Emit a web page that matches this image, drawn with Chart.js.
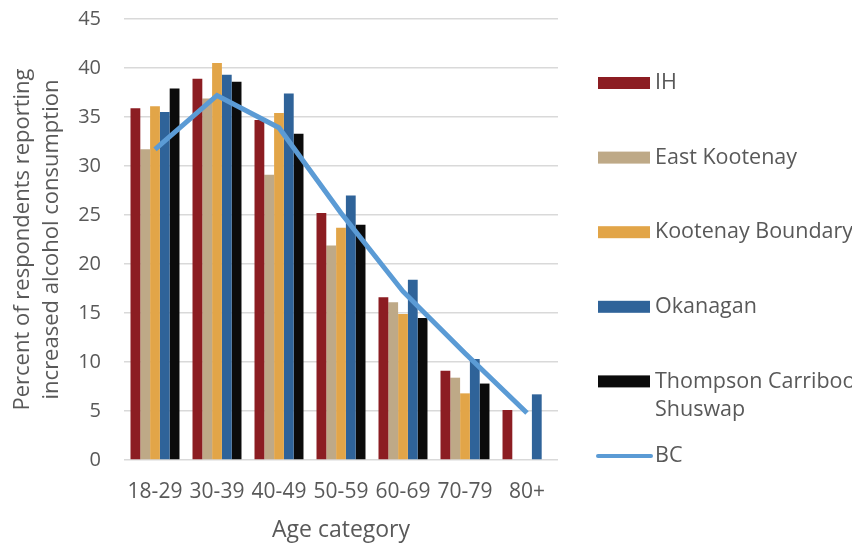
<!DOCTYPE html>
<html>
<head>
<meta charset="utf-8">
<script src="https://cdn.jsdelivr.net/npm/chart.js@4.4.0/dist/chart.umd.min.js"></script>
<style>
  html, body { margin: 0; padding: 0; background: #fff; }
  #wrap { width: 852px; height: 544px; }
</style>
</head>
<body>
<div id="wrap"><canvas id="chart" width="852" height="544"></canvas></div>
<script>
// age groups on the x axis
const ageCategories = ['18-29', '30-39', '40-49', '50-59', '60-69', '70-79', '80+'];

// percent reporting increased alcohol consumption, by region
const ihValues = [35.9, 38.9, 34.7, 25.2, 16.6, 9.1, 5.1];
const eastKootenayValues = [31.7, 36.9, 29.1, 21.9, 16.1, 8.4, null];
const kootenayBoundaryValues = [36.1, 40.5, 35.4, 23.7, 14.9, 6.8, null];
const okanaganValues = [35.5, 39.3, 37.4, 27.0, 18.4, 10.3, 6.7];
const thompsonValues = [37.9, 38.6, 33.3, 24.0, 14.5, 7.8, null];
const bcValues = [31.7, 37.2, 33.9, 25.2, 17.2, 10.9, 4.8];

const yTicks = [0, 5, 10, 15, 20, 25, 30, 35, 40, 45];

const FONT = "'Open Sans', sans-serif";
const TEXT_COLOR = '#595959';

// legend drawn down the right side, one row per dataset
const sideLegend = {
  id: 'sideLegend',
  afterDraw(chart) {
    const ctx = chart.ctx;
    const x = 598;
    let y = 83;
    ctx.save();
    ctx.font = '21.5px ' + FONT;
    ctx.textBaseline = 'middle';
    chart.data.datasets.forEach((ds) => {
      if (ds.type === 'line') {
        ctx.strokeStyle = ds.borderColor;
        ctx.lineWidth = 4;
        ctx.lineCap = 'round';
        ctx.beginPath();
        ctx.moveTo(x, y);
        ctx.lineTo(x + 53, y);
        ctx.stroke();
      } else {
        ctx.fillStyle = ds.backgroundColor;
        ctx.fillRect(x, y - 6, 52, 12);
      }
      ctx.fillStyle = TEXT_COLOR;
      ds.label.split('\n').forEach((line, i) => {
        ctx.fillText(line, x + 57, y + i * 28);
      });
      y += 74.6;
    });
    ctx.restore();
  }
};

function barSet(label, data, color) {
  return {
    label: label,
    data: data,
    backgroundColor: color,
    categoryPercentage: 0.79,
    barPercentage: 1.0
  };
}

const ctx = document.getElementById('chart').getContext('2d');
new Chart(ctx, {
  type: 'bar',
  data: {
    labels: ageCategories,
    datasets: [
      barSet('IH', ihValues, '#8c1d22'),
      barSet('East Kootenay', eastKootenayValues, '#bea987'),
      barSet('Kootenay Boundary', kootenayBoundaryValues, '#e2a548'),
      barSet('Okanagan', okanaganValues, '#2f6399'),
      barSet('Thompson Carriboo\nShuswap', thompsonValues, '#0b0b0b'),
      {
        type: 'line',
        label: 'BC',
        data: bcValues,
        borderColor: '#5b9bd5',
        borderWidth: 5,
        pointRadius: 0,
        tension: 0,
        order: -1
      }
    ]
  },
  options: {
    responsive: false,
    animation: false,
    devicePixelRatio: 1,
    layout: { padding: { left: 0, right: 294, top: 19, bottom: 0 } },
    plugins: {
      legend: { display: false },
      tooltip: { enabled: false }
    },
    scales: {
      x: {
        grid: { display: false, drawTicks: false },
        border: { display: false },
        ticks: { color: TEXT_COLOR, font: { family: FONT, size: 21, lineHeight: 1.2 }, padding: 19, maxRotation: 0 },
        title: {
          display: true,
          text: 'Age category',
          color: TEXT_COLOR,
          font: { family: FONT, size: 23, lineHeight: 1.2 },
          padding: { top: 0, bottom: 0 }
        },
        afterFit: (s) => { s.height = 84; }
      },
      y: {
        min: 0,
        max: 45,
        afterBuildTicks: (s) => { s.ticks = yTicks.map((v) => ({ value: v })); },
        grid: { color: '#d9d9d9', lineWidth: 1.5, drawTicks: false },
        border: { display: false },
        ticks: { color: TEXT_COLOR, font: { family: FONT, size: 20 }, padding: 23 },
        title: {
          display: true,
          text: ['Percent of respondents reporting', 'increased alcohol consumption'],
          color: TEXT_COLOR,
          font: { family: FONT, size: 22, lineHeight: 1.32 },
          padding: { top: 8.5, bottom: 0 }
        },
        afterFit: (s) => {
          s.width = 124;
          // let the layout padding alone decide where the plot starts
          s.paddingTop = 0;
          s.paddingBottom = 0;
        }
      }
    }
  },
  plugins: [sideLegend]
});
</script>
</body>
</html>
